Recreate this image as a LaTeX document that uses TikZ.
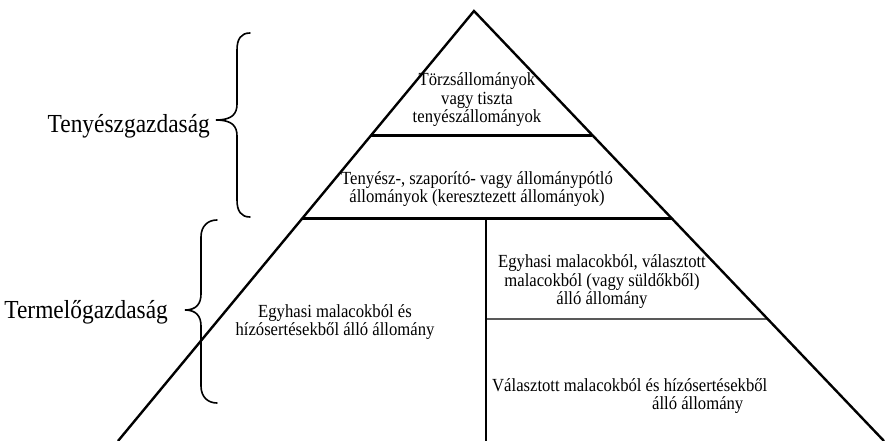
\documentclass[tikz,border=0pt]{standalone}
\usepackage{fontspec}
\setmainfont[FakeStretch=0.9]{Liberation Serif}
\usetikzlibrary{calc}
\tikzset{
  side/.style={line width=2.4pt, line join=miter},
  band/.style={line width=3pt},
  thin/.style={line width=1.2pt},
  bracestyle/.style={line width=1.6pt, line cap=round},
  inner/.style={font=\fontsize{18.5}{18.5}\selectfont, align=center, inner sep=0pt},
  biglabel/.style={font=\fontsize{26}{28}\selectfont, inner sep=0pt}
}
\begin{document}
\begin{tikzpicture}[x=1pt, y=-1pt]
\useasboundingbox (0,0) rectangle (885,441);
% pyramid corners
\coordinate (A) at (474,11);
\coordinate (BL) at (118,441);
\coordinate (BR) at (884,441);
\coordinate (L1) at ($(A)!0.2884!(BL)$);
\coordinate (R1) at ($(A)!0.2884!(BR)$);
\coordinate (L2) at ($(A)!0.4837!(BL)$);
\coordinate (R2) at ($(A)!0.4837!(BR)$);
\coordinate (R3) at ($(A)!0.7163!(BR)$);
\coordinate (V1) at (486,219);
\coordinate (V2) at (486,441);
\coordinate (M3) at (486,319);
% outline
\draw[side] (BL) -- (A) -- (BR);
\draw[band] (L1) -- (R1);
\draw[band] (L2) -- (R2);
\draw[thin] (V1) -- (V2);
\draw[thin] (M3) -- (R3);
% texts
\node[inner] (t1) at (477,100) {Törzsállományok\\vagy tiszta\\tenyészállományok};
\node[inner] (t2) at (477,189) {Tenyész-, szaporító- vagy állománypótló\\állományok (keresztezett állományok)};
\node[inner] (t3) at (335,322) {Egyhasi malacokból és\\hízósertésekből álló állomány};
\node[inner] (t4) at (602,282) {Egyhasi malacokból, választott\\malacokból (vagy süldőkből)\\álló állomány};
\node[inner, align=left, anchor=west] (t5) at (492,396) {Választott malacokból és hízósertésekből\\\hspace*{160pt}álló állomány};
% braces
\coordinate (b1t) at (250,33);
\coordinate (b1m) at (216,120);
\coordinate (b1b) at (250,217);
\draw[bracestyle] (b1t) .. controls (241,33) and (237,39) .. (237,50) -- (237,104)
  .. controls (237,114) and (232,120) .. (b1m)
  .. controls (232,120) and (237,126) .. (237,136) -- (237,200)
  .. controls (237,211) and (241,217) .. (b1b);
\coordinate (b2t) at (217,220);
\coordinate (b2m) at (185,310);
\coordinate (b2b) at (217,403);
\draw[bracestyle] (b2t) .. controls (208,220) and (201,226) .. (201,237) -- (201,294)
  .. controls (201,304) and (196,310) .. (b2m)
  .. controls (196,310) and (201,316) .. (201,326) -- (201,386)
  .. controls (201,397) and (208,403) .. (b2b);
% labels
\node[biglabel, anchor=base east] (lab1) at (210,132) {Tenyészgazdaság};
\node[biglabel, anchor=base east] (lab2) at (168,318) {Termelőgazdaság};
\end{tikzpicture}
\end{document}
